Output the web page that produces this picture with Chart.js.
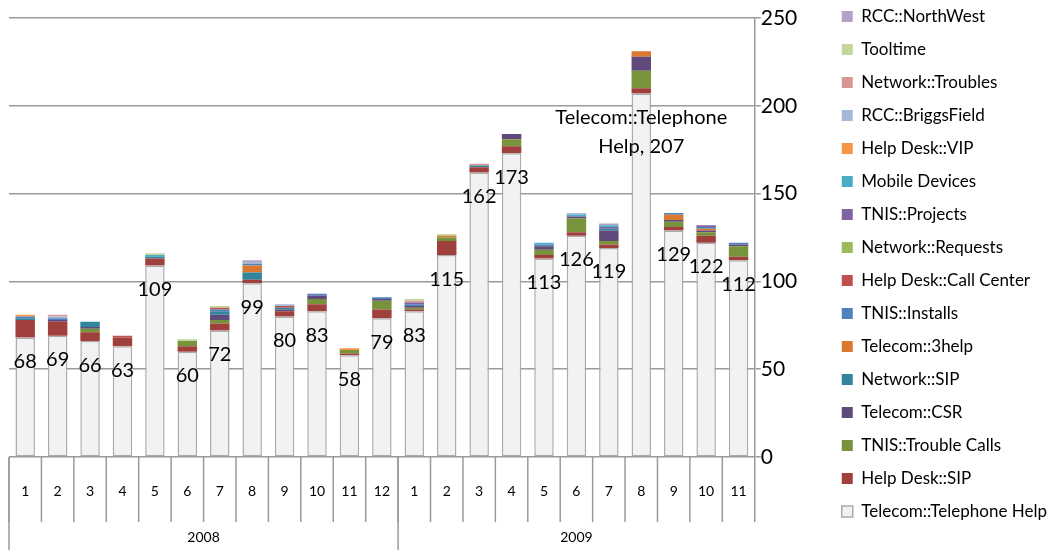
<!DOCTYPE html>
<html>
<head>
<meta charset="utf-8">
<script src="https://cdn.jsdelivr.net/npm/chart.js@4.4.0/dist/chart.umd.min.js"></script>
<style>
  html, body { margin: 0; padding: 0; background: #fff; }
  .chart-wrap { position: relative; width: 1059px; height: 550px; }
</style>
</head>
<body>
<div class="chart-wrap"><canvas id="chart"></canvas></div>
<script>
// Categories: months of 2008 (1-12) and 2009 (1-11)
const years = ['2008', '2009'];
const monthsPerYear = [12, 11];
const months = ['1','2','3','4','5','6','7','8','9','10','11','12',
                '1','2','3','4','5','6','7','8','9','10','11'];

const yTicks = [0, 50, 100, 150, 200, 250];

// Series values (stack order, bottom to top)
const telephoneHelp = [68, 69, 66, 63, 109, 60, 72, 99, 80, 83, 58, 79, 83, 115, 162, 173, 113, 126, 119, 207, 129, 122, 112];
const helpDeskSip   = [10, 8, 5, 5, 4, 3, 4, 2, 3, 4, 1, 5, 1, 8, 3, 4, 2, 2, 2, 3, 2, 4, 2];
const troubleCalls  = [0, 0, 2, 0, 0, 3, 2, 0, 0, 3, 2, 5, 1, 2, 0, 4, 3, 8, 2, 10, 3, 2, 6];
const telecomCsr    = [0, 1, 1, 0, 0, 0, 3, 0, 1, 2, 0, 1, 1, 0, 0, 3, 2, 1, 6, 8, 1, 1, 1];
const networkSip    = [1, 0, 3, 0, 1, 0, 2, 4, 1, 0, 0, 0, 0, 0, 1, 0, 0, 0, 1, 0, 0, 0, 0];
const telecom3help  = [0, 0, 0, 0, 0, 0, 0, 4, 0, 0, 0, 0, 0, 1, 0, 0, 0, 0, 0, 3, 3, 1, 0];
const tnisInstalls  = [1, 1, 0, 0, 0, 0, 1, 1, 0, 1, 0, 1, 1, 0, 0, 0, 1, 0, 0, 0, 1, 1, 1];
const callCenter    = [0, 0, 0, 1, 0, 0, 1, 0, 1, 0, 0, 0, 0, 0, 0, 0, 0, 0, 0, 0, 0, 0, 0];
const netRequests   = [0, 0, 0, 0, 0, 0, 0, 0, 0, 0, 0, 0, 0, 0, 0, 0, 0, 0, 0, 0, 0, 0, 0];
const tnisProjects  = [0, 0, 0, 0, 0, 0, 0, 0, 0, 0, 0, 0, 1, 0, 0, 0, 0, 0, 1, 0, 0, 1, 0];
const mobileDevices = [0, 0, 0, 0, 1, 0, 0, 0, 0, 0, 0, 0, 0, 0, 0, 0, 1, 1, 1, 0, 0, 0, 0];
const helpDeskVip   = [1, 0, 0, 0, 0, 0, 0, 0, 0, 0, 1, 0, 0, 0, 0, 0, 0, 0, 0, 0, 0, 0, 0];
const briggsField   = [0, 1, 0, 0, 0, 0, 0, 1, 1, 0, 0, 0, 0, 0, 0, 0, 0, 1, 0, 0, 0, 0, 0];
const netTroubles   = [0, 1, 0, 0, 0, 0, 0, 0, 0, 0, 0, 0, 1, 0, 1, 0, 0, 0, 0, 0, 0, 0, 0];
const tooltime      = [0, 0, 0, 0, 1, 1, 1, 0, 0, 0, 0, 0, 1, 1, 0, 0, 0, 0, 0, 0, 0, 0, 0];
const northWest     = [0, 0, 0, 0, 0, 0, 0, 1, 0, 0, 0, 0, 0, 0, 0, 0, 0, 0, 1, 0, 0, 0, 0];

// the one data label that also shows the series name
const nameLabelIndex = 19;

const FONT = 'Lato, "Open Sans", sans-serif';

function seg(label, data, color) {
    return { label: label, data: data, backgroundColor: color, borderWidth: 0 };
}

const datasets = [
    { label: 'Telecom::Telephone Help', data: telephoneHelp, backgroundColor: '#F2F2F2',
      borderColor: '#ABABAB', borderWidth: 1.5, borderSkipped: false },
    seg('Help Desk::SIP', helpDeskSip, '#A0403D'),
    seg('TNIS::Trouble Calls', troubleCalls, '#77933C'),
    seg('Telecom::CSR', telecomCsr, '#604A7B'),
    seg('Network::SIP', networkSip, '#31859C'),
    seg('Telecom::3help', telecom3help, '#D9782E'),
    seg('TNIS::Installs', tnisInstalls, '#4F81BD'),
    seg('Help Desk::Call Center', callCenter, '#C0504D'),
    seg('Network::Requests', netRequests, '#9BBB59'),
    seg('TNIS::Projects', tnisProjects, '#8064A2'),
    seg('Mobile Devices', mobileDevices, '#4BACC6'),
    seg('Help Desk::VIP', helpDeskVip, '#F79646'),
    seg('RCC::BriggsField', briggsField, '#A5B8D8'),
    seg('Network::Troubles', netTroubles, '#D99694'),
    seg('Tooltime', tooltime, '#C3D69B'),
    seg('RCC::NorthWest', northWest, '#B3A2C7')
];

// Data labels on the base series
const barLabels = {
    id: 'barLabels',
    afterDatasetsDraw(chart) {
        const ctx = chart.ctx;
        const meta = chart.getDatasetMeta(0);
        const ds = chart.data.datasets[0];
        ctx.save();
        ctx.font = '20px ' + FONT;
        ctx.fillStyle = '#000';
        ctx.textAlign = 'center';
        ctx.textBaseline = 'middle';
        meta.data.forEach((bar, i) => {
            const v = ds.data[i];
            let lines = [String(v)];
            if (i === nameLabelIndex) {
                const cut = ds.label.lastIndexOf(' ');
                lines = [ds.label.slice(0, cut), ds.label.slice(cut + 1) + ', ' + v];
            }
            lines.forEach((t, k) => ctx.fillText(t, bar.x, bar.y + 24 + k * 29));
        });
        ctx.restore();
    }
};

// Two-level category axis (month / year)
const groupAxis = {
    id: 'groupAxis',
    afterDraw(chart) {
        const ctx = chart.ctx;
        const x = chart.scales.x;
        const area = chart.chartArea;
        const n = months.length;
        const step = (area.right - area.left) / n;
        const top = area.bottom;
        const monthBottom = top + 65;
        const bottom = chart.height;
        ctx.save();
        ctx.strokeStyle = '#9A9A9A';
        ctx.lineWidth = 1.5;
        // month separators
        for (let k = 0; k <= n; k++) {
            const px = area.left + k * step;
            ctx.beginPath();
            ctx.moveTo(px, top);
            ctx.lineTo(px, monthBottom);
            ctx.stroke();
        }
        // year separators
        let start = 0;
        const bounds = [0];
        monthsPerYear.forEach(c => { start += c; bounds.push(start); });
        bounds.slice(0, -1).forEach(b => {
            const px = area.left + b * step;
            ctx.beginPath();
            ctx.moveTo(px, top);
            ctx.lineTo(px, bottom);
            ctx.stroke();
        });
        ctx.fillStyle = '#000';
        ctx.textAlign = 'center';
        ctx.textBaseline = 'middle';
        ctx.font = '14px ' + FONT;
        months.forEach((m, i) => {
            ctx.fillText(m, x.getPixelForValue(i), top + 34);
        });
        years.forEach((yr, j) => {
            const a = area.left + bounds[j] * step;
            const b = area.left + bounds[j + 1] * step;
            ctx.fillText(yr, (a + b) / 2, top + 80);
        });
        ctx.restore();
    }
};

new Chart(document.getElementById('chart'), {
    type: 'bar',
    data: { labels: months.map((m, i) => (i < 12 ? years[0] : years[1]) + '-' + m), datasets: datasets },
    options: {
        responsive: true,
        maintainAspectRatio: false,
        animation: false,
        layout: { padding: { left: 9, right: 2, top: -8, bottom: 0 } },
        datasets: { bar: { barPercentage: 0.6, categoryPercentage: 1 } },
        scales: {
            x: {
                stacked: true,
                grid: { display: false },
                border: { display: false },
                ticks: { display: false },
                afterFit: (scale) => { scale.height = 93; }
            },
            y: {
                stacked: true,
                position: 'right',
                min: 0,
                max: 250,
                afterBuildTicks: (scale) => { scale.ticks = yTicks.map(v => ({ value: v })); },
                afterFit: (scale) => { scale.width = 71; },
                grid: { color: '#9A9A9A', lineWidth: 1.5, tickLength: 6 },
                border: { color: '#9A9A9A', width: 1.5 },
                ticks: { padding: 0, color: '#000', font: { family: FONT, size: 21 } }
            }
        },
        plugins: {
            title: { display: true, text: ' ', fullSize: false, padding: 0, font: { size: 15, lineHeight: '26px' } },
            tooltip: { enabled: false },
            legend: {
                position: 'right',
                align: 'start',
                reverse: true,
                labels: {
                    boxWidth: 11,
                    boxHeight: 11,
                    padding: 16,
                    color: '#000',
                    font: { family: FONT, size: 17 }
                }
            }
        }
    },
    plugins: [barLabels, groupAxis]
});
</script>
</body>
</html>
